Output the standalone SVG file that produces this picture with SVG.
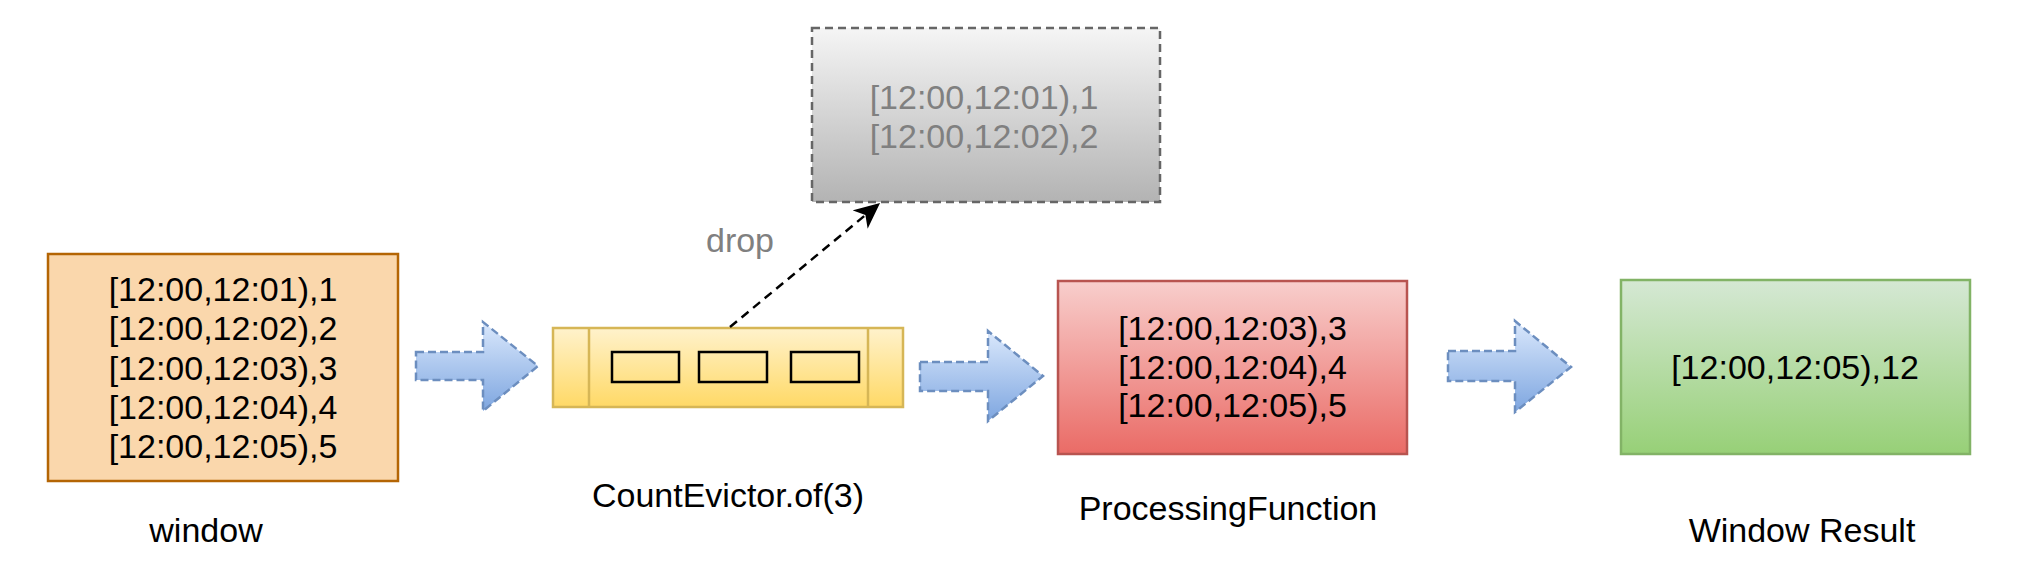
<svg xmlns="http://www.w3.org/2000/svg" width="2018" height="580" viewBox="0 0 2018 580">
<defs>
<linearGradient id="gOrange" x1="0" y1="0" x2="0" y2="1"><stop offset="0" stop-color="#fad7ac"/><stop offset="1" stop-color="#fad7ac"/></linearGradient>
<linearGradient id="gYellow" x1="0" y1="0" x2="0" y2="1"><stop offset="0" stop-color="#fff2cc"/><stop offset="1" stop-color="#ffd966"/></linearGradient>
<linearGradient id="gGray" x1="0" y1="0" x2="0" y2="1"><stop offset="0" stop-color="#f5f5f5"/><stop offset="1" stop-color="#b3b3b3"/></linearGradient>
<linearGradient id="gRed" x1="0" y1="0" x2="0" y2="1"><stop offset="0" stop-color="#f8cecc"/><stop offset="1" stop-color="#ea6b66"/></linearGradient>
<linearGradient id="gGreen" x1="0" y1="0" x2="0" y2="1"><stop offset="0" stop-color="#d5e8d4"/><stop offset="1" stop-color="#97d077"/></linearGradient>
<linearGradient id="gBlue" x1="0" y1="0" x2="0" y2="1"><stop offset="0" stop-color="#dae8fc"/><stop offset="1" stop-color="#7ea6e0"/></linearGradient>
<marker id="head" viewBox="0 0 26 24" refX="7" refY="12" markerWidth="26" markerHeight="24" markerUnits="userSpaceOnUse" orient="auto">
<path d="M0,0 L26,12 L0,24 L7,12 z" fill="#000"/>
</marker>
<style>
text{font-family:"Liberation Sans",Arial,Helvetica,sans-serif;font-size:34px;text-anchor:middle;fill:#000}
.gray{fill:#808080}
.box{stroke-width:2.5}
.flow{fill:url(#gBlue);stroke:#6c8ebf;stroke-width:2.5;stroke-dasharray:8 4}
.drop{fill:none;stroke:#000;stroke-width:2.5;stroke-dasharray:9 6}
</style>
</defs>

<g id="window">
<rect class="box" x="48" y="254" width="350" height="227" fill="#fad7ac" stroke="#b46504"/>
<text x="223" y="301">[12:00,12:01),1</text>
<text x="223" y="340">[12:00,12:02),2</text>
<text x="223" y="379.5">[12:00,12:03),3</text>
<text x="223" y="419">[12:00,12:04),4</text>
<text x="223" y="458">[12:00,12:05),5</text>
<text x="206" y="542">window</text>
</g>

<g id="evictor">
<rect class="box" x="553" y="328" width="350" height="79" fill="url(#gYellow)" stroke="#d6b656"/>
<line x1="589" y1="328" x2="589" y2="407" stroke="#d6b656" stroke-width="2.5"/>
<line x1="868" y1="328" x2="868" y2="407" stroke="#d6b656" stroke-width="2.5"/>
<rect x="612" y="352" width="67" height="30" fill="none" stroke="#000" stroke-width="2.5"/>
<rect x="699" y="352" width="68" height="30" fill="none" stroke="#000" stroke-width="2.5"/>
<rect x="791" y="352" width="68" height="30" fill="none" stroke="#000" stroke-width="2.5"/>
<text x="728" y="507">CountEvictor.of(3)</text>
</g>

<g id="dropped">
<rect class="box" x="812" y="28" width="348" height="174" fill="url(#gGray)" stroke="#666" stroke-dasharray="8 5"/>
<text class="gray" x="984" y="109">[12:00,12:01),1</text>
<text class="gray" x="984" y="148">[12:00,12:02),2</text>
</g>

<g id="processing">
<rect class="box" x="1058" y="281" width="349" height="173" fill="url(#gRed)" stroke="#b85450"/>
<text x="1232.5" y="340">[12:00,12:03),3</text>
<text x="1232.5" y="378.5">[12:00,12:04),4</text>
<text x="1232.5" y="417">[12:00,12:05),5</text>
<text x="1228" y="520">ProcessingFunction</text>
</g>

<g id="result">
<rect class="box" x="1621" y="280" width="349" height="174" fill="url(#gGreen)" stroke="#82b366"/>
<text x="1795" y="379">[12:00,12:05),12</text>
<text x="1802" y="542">Window Result</text>
</g>

<g id="connectors">
<polygon class="flow" points="416,352 483,352 483,322 538,366 483,411 483,380 416,380"/>
<polygon class="flow" points="920,362 988,362 988,331 1043,376 988,421 988,391 920,391"/>
<polygon class="flow" points="1448,351 1515,351 1515,321 1571,367 1515,412 1515,381 1448,381"/>
<path class="drop" d="M730,327 L865.4,215.1" marker-end="url(#head)"/>
<text class="gray" x="740" y="252">drop</text>
</g>
</svg>
